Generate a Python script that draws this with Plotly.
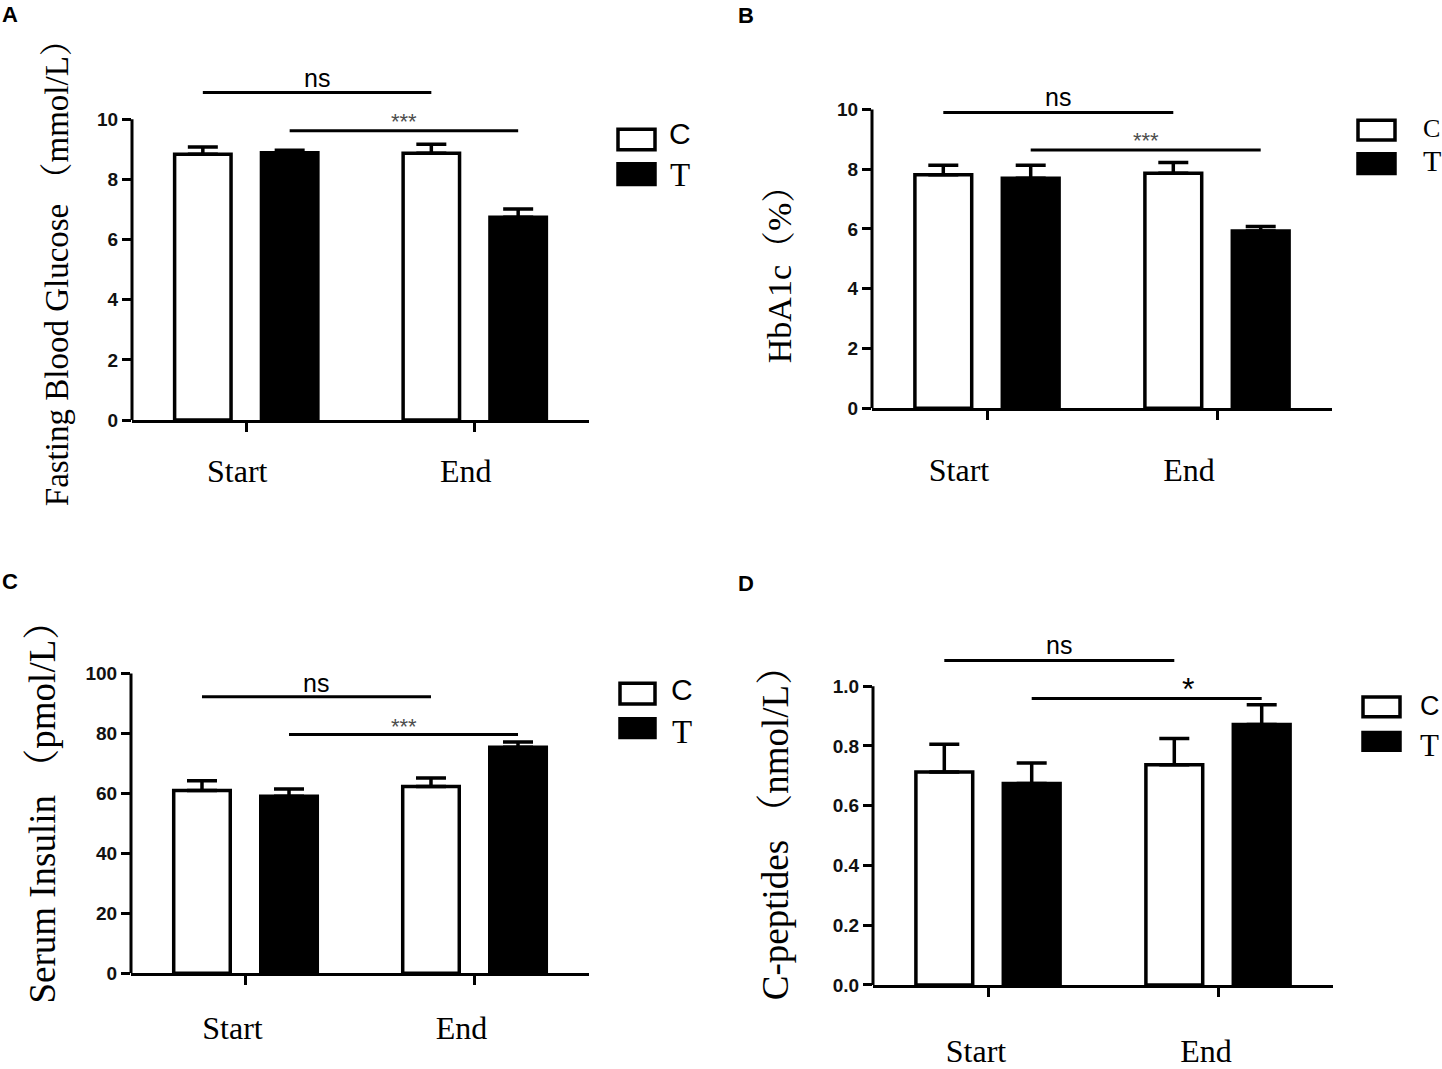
import plotly.graph_objects as go

W, H = 1442, 1069

# ---------------- data ----------------
categories = ["Start", "End"]
groups = ["C", "T"]

fbg_c = [8.84, 8.87]
fbg_c_err = [0.24, 0.30]
fbg_t = [8.89, 6.74]
fbg_t_err = [0.08, 0.28]

hba1c_c = [7.81, 7.86]
hba1c_c_err = [0.32, 0.36]
hba1c_t = [7.70, 5.93]
hba1c_t_err = [0.43, 0.15]

ins_c = [60.9, 62.3]
ins_c_err = [3.3, 2.8]
ins_t = [59.0, 75.4]
ins_t_err = [2.4, 1.7]

cpep_c = [0.713, 0.737]
cpep_c_err = [0.093, 0.088]
cpep_t = [0.674, 0.872]
cpep_t_err = [0.069, 0.066]

fbg_ticks = [0, 2, 4, 6, 8, 10]
hba1c_ticks = [0, 2, 4, 6, 8, 10]
ins_ticks = [0, 20, 40, 60, 80, 100]
cpep_ticks = [0.0, 0.2, 0.4, 0.6, 0.8, 1.0]

fbg_sig = ["ns", "***"]
hba1c_sig = ["ns", "***"]
ins_sig = ["ns", "***"]
cpep_sig = ["ns", "*"]

panel_letters = ["A", "B", "C", "D"]
y_titles = [
    "Fasting Blood Glucose （mmol/L）",
    "HbA1c（%）",
    "Serum Insulin （pmol/L）",
    "C-peptides （nmol/L）",
]

# ---------------- layout config (pixels) ----------------
BARGAP = 0.24
BARGROUPGAP = 0.35
SLOT = (1 - BARGAP) / 2
OFF_C, OFF_T = -SLOT / 2, SLOT / 2
RANGE_FACTOR = 1.2

SERIF = "Liberation Serif, Times New Roman, Noto Serif CJK SC, Noto Sans CJK SC, serif"
SANS = "Liberation Sans, Arial, sans-serif"

panels = [
    dict(c=fbg_c, ce=fbg_c_err, t=fbg_t, te=fbg_t_err, ticks=fbg_ticks, fmt="d", sig=fbg_sig,
         x0=132, x1=589, y0=426, ytop=121,
         ns_line=10.89, ns_text=11.37, st_line=9.62, st_text=10.1, st_t=0.5, st_size=22, st_color="#4d4d4d",
         tstand=12, tshift=-9,
         title_x=57, title_y=269, title_size=33, letter=(10, 15),
         leg=dict(bx0=618, bx1=655, c=(131, 152), t=(166, 187), lx=680, lanchor="center",
                  cy=135, ty=177, cfont=SANS, csize=30, tsize=33)),
    dict(c=hba1c_c, ce=hba1c_c_err, t=hba1c_t, te=hba1c_t_err, ticks=hba1c_ticks, fmt="d", sig=hba1c_sig,
         x0=872, x1=1332, y0=414, ytop=111,
         ns_line=9.9, ns_text=10.43, st_line=8.64, st_text=9.13, st_t=0.5, st_size=22, st_color="#4d4d4d",
         tstand=22, tshift=-28,
         title_x=779, title_y=270, title_size=34, letter=(746, 16),
         leg=dict(bx0=1358, bx1=1395, c=(122, 142), t=(156, 176), lx=1421, lanchor="left",
                  cy=130, ty=163, cfont=SERIF, csize=26, tsize=30)),
    dict(c=ins_c, ce=ins_c_err, t=ins_t, te=ins_t_err, ticks=ins_ticks, fmt="d", sig=ins_sig,
         x0=131, x1=589, y0=987, ytop=683,
         ns_line=92.2, ns_text=96.8, st_line=79.6, st_text=84.0, st_t=0.5, st_size=22, st_color="#4d4d4d",
         tstand=15, tshift=-13,
         title_x=43, title_y=815, title_size=37, letter=(10, 590),
         leg=dict(bx0=620, bx1=655, c=(693, 714), t=(729, 748), lx=682, lanchor="center",
                  cy=699, ty=742, cfont=SANS, csize=30, tsize=33)),
    dict(c=cpep_c, ce=cpep_c_err, t=cpep_t, te=cpep_t_err, ticks=cpep_ticks, fmt=".1f", sig=cpep_sig,
         x0=873, x1=1333, y0=999, ytop=696,
         ns_line=1.086, ns_text=1.138, st_line=0.959, st_text=1.017, st_t=0.68, st_size=32, st_color="#000000",
         tstand=27, tshift=-12,
         title_x=775, title_y=836, title_size=37, letter=(746, 592),
         leg=dict(bx0=1363, bx1=1400, c=(707, 727), t=(743, 761), lx=1418, lanchor="left",
                  cy=716, ty=756, cfont=SANS, csize=27, tsize=31)),
]


def px_x(p):
    return p / W


def px_y(p):
    return 1 - p / H


fig = go.Figure()
shapes = []
annotations = []
layout_axes = {}

for i, p in enumerate(panels):
    n = "" if i == 0 else str(i + 1)
    xa, ya = "x" + n, "y" + n
    ymax = p["ticks"][-1]
    top_px = p["y0"] - (p["y0"] - p["ytop"]) * RANGE_FACTOR

    for name, vals, errs, fill in (("C", p["c"], p["ce"], "white"), ("T", p["t"], p["te"], "black")):
        fig.add_trace(go.Bar(
            x=categories, y=vals, name=name, legendgroup=name, showlegend=False,
            xaxis=xa, yaxis=ya,
            marker=dict(color=fill, line=dict(color="black", width=3.5)),
            error_y=dict(type="data", symmetric=False, array=errs, arrayminus=[0] * len(errs),
                         color="black", thickness=3.5, width=15),
        ))

    layout_axes["xaxis" + n] = dict(
        domain=[px_x(p["x0"]), px_x(p["x1"])], anchor=ya, type="category",
        categoryorder="array", categoryarray=categories, range=[-0.5, 1.5],
        showline=True, linecolor="black", linewidth=3, showgrid=False, zeroline=False,
        ticks="outside", ticklen=9, tickwidth=3, tickcolor="black",
        tickfont=dict(family=SERIF, size=32, color="black"),
        ticklabelstandoff=p["tstand"], ticklabelshift=p["tshift"], fixedrange=True,
    )
    layout_axes["yaxis" + n] = dict(
        domain=[px_y(p["y0"]), px_y(top_px)], anchor=xa, range=[0, ymax * RANGE_FACTOR],
        tickmode="array", tickvals=p["ticks"], tickformat=p["fmt"],
        showline=False, showgrid=False, zeroline=False,
        ticks="outside", ticklen=9, tickwidth=3, tickcolor="black",
        tickfont=dict(family=SANS, size=19, color="#111111", weight="bold"), fixedrange=True,
    )

    # y-axis line only up to the top tick
    shapes.append(dict(type="line", xref=xa + " domain", yref=ya, x0=0, x1=0, y0=0, y1=ymax,
                       line=dict(color="black", width=3)))

    # significance brackets
    ns_x0, ns_x1 = 0 + OFF_C, 1 + OFF_C
    st_x0, st_x1 = 0 + OFF_T, 1 + OFF_T
    shapes.append(dict(type="line", xref=xa, yref=ya, x0=ns_x0, x1=ns_x1, y0=p["ns_line"], y1=p["ns_line"],
                       line=dict(color="black", width=3)))
    shapes.append(dict(type="line", xref=xa, yref=ya, x0=st_x0, x1=st_x1, y0=p["st_line"], y1=p["st_line"],
                       line=dict(color="black", width=3)))
    annotations.append(dict(xref=xa, yref=ya, x=(ns_x0 + ns_x1) / 2, y=p["ns_text"], text=p["sig"][0],
                            showarrow=False, xanchor="center", yanchor="middle",
                            font=dict(family=SANS, size=25, color="black")))
    annotations.append(dict(xref=xa, yref=ya, x=st_x0 + p["st_t"] * (st_x1 - st_x0), y=p["st_text"],
                            text=p["sig"][1], showarrow=False, xanchor="center", yanchor="middle",
                            yshift=-0.25 * p["st_size"],
                            font=dict(family=SANS, size=p["st_size"], color=p["st_color"])))

    # y title
    annotations.append(dict(xref="paper", yref="paper", x=px_x(p["title_x"]), y=px_y(p["title_y"]),
                            text=y_titles[i], textangle=-90, showarrow=False,
                            xanchor="center", yanchor="middle",
                            font=dict(family=SERIF, size=p["title_size"], color="black")))
    # panel letter
    annotations.append(dict(xref="paper", yref="paper", x=px_x(p["letter"][0]), y=px_y(p["letter"][1]),
                            text=panel_letters[i], showarrow=False, xanchor="center", yanchor="middle",
                            font=dict(family=SANS, size=22, color="black", weight="bold")))

    # legend (boxes + labels)
    lg = p["leg"]
    for (yy0, yy1), fill in ((lg["c"], "white"), (lg["t"], "black")):
        shapes.append(dict(type="rect", xref="paper", yref="paper",
                           x0=px_x(lg["bx0"]), x1=px_x(lg["bx1"]), y0=px_y(yy1), y1=px_y(yy0),
                           fillcolor=fill, line=dict(color="black", width=3.5)))
    annotations.append(dict(xref="paper", yref="paper", x=px_x(lg["lx"]), y=px_y(lg["cy"]),
                            text=groups[0], showarrow=False, xanchor=lg["lanchor"], yanchor="middle",
                            font=dict(family=lg["cfont"], size=lg["csize"], color="black")))
    annotations.append(dict(xref="paper", yref="paper", x=px_x(lg["lx"]), y=px_y(lg["ty"]),
                            text=groups[1], showarrow=False, xanchor=lg["lanchor"], yanchor="middle",
                            font=dict(family=SERIF, size=lg["tsize"], color="black")))

fig.update_layout(
    width=W, height=H, margin=dict(l=0, r=0, t=0, b=0),
    paper_bgcolor="white", plot_bgcolor="white",
    barmode="group", bargap=BARGAP, bargroupgap=BARGROUPGAP,
    showlegend=False, shapes=shapes, annotations=annotations,
    **layout_axes,
)

fig.write_html("out.html", config={"displayModeBar": False},
               post_script="document.body.style.margin='0';")
